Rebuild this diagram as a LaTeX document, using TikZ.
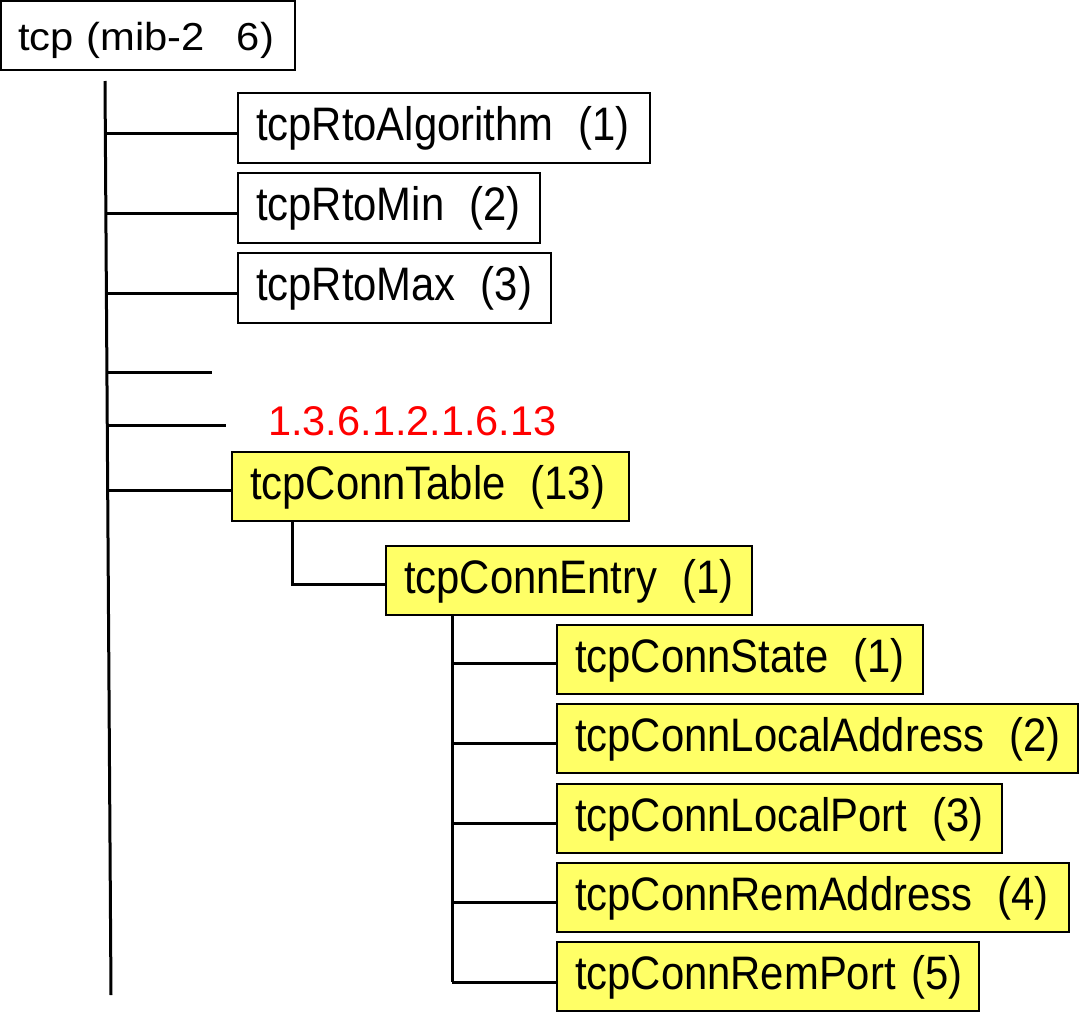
\documentclass[tikz,border=0pt]{standalone}
\usepackage{fontspec}
\setmainfont{Liberation Sans}
\newfontfamily\oidfont[FakeStretch=0.89]{Liberation Sans}
\newfontfamily\rootfont[FakeStretch=1.07]{Liberation Sans}
\definecolor{oidyellow}{HTML}{FFFF66}
\definecolor{oidred}{HTML}{FF0000}
% gap between an object name and its number
\newcommand\oidgap{\kern25pt}
\begin{document}
\begin{tikzpicture}[x=1pt,y=-1pt,
  conn/.style={line width=3pt},
  oidbox/.style={draw=black, line width=2pt, outer sep=0pt, anchor=north west,
    inner xsep=18pt, inner ysep=0pt, text height=47pt, text depth=23pt,
    text width=#1, align=left, font=\oidfont\fontsize{47}{50}\selectfont},
  yelbox/.style={oidbox=#1, fill=oidyellow, text depth=22pt},
  rootbox/.style={draw=black, line width=2pt, outer sep=0pt, anchor=north west,
    inner xsep=17pt, inner ysep=0pt, text height=49pt, text depth=20pt,
    text width=#1, align=left, font=\rootfont\fontsize{39}{44}\selectfont},
  oidlabel/.style={anchor=base west, inner sep=0pt, text=oidred,
    font=\fontsize{41.5}{44}\selectfont}
]
\useasboundingbox (0,0) rectangle (1080,1012);

% root of the subtree
\node[rootbox=260pt] (tcp) at (1,1) {\mbox{tcp (mib-2\kern32pt 6)}};

% scalar objects under tcp
\node[oidbox=376pt] (algo) at (238,93)  {tcpRtoAlgorithm\oidgap(1)};
\node[oidbox=266pt] (rmin) at (238,173) {tcpRtoMin\oidgap(2)};
\node[oidbox=277pt] (rmax) at (238,253) {tcpRtoMax\oidgap(3)};

% connection table branch
\node[oidlabel] (oid) at (268,435) {1.3.6.1.2.1.6.13};
\node[yelbox=361pt] (table) at (232,452) {tcpConnTable\oidgap(13)};
\node[yelbox=330pt] (entry) at (386,546) {tcpConnEntry\oidgap(1)};
\node[yelbox=330pt] (state) at (557,625) {tcpConnState\oidgap(1)};
\node[yelbox=485pt] (laddr) at (557,704) {tcpConnLocalAddress\oidgap(2)};
\node[yelbox=409pt] (lport) at (557,784) {tcpConnLocalPort\oidgap(3)};
\node[yelbox=476pt] (raddr) at (557,863) {tcpConnRemAddress\oidgap(4)};
\node[yelbox=386pt] (rport) at (557,942) {tcpConnRemPort~(5)};

% main trunk and its branch points
\coordinate (trunkTop) at (105,81);
\coordinate (trunkBot) at (111,995);
\coordinate (b1) at (105.3,133);
\coordinate (b2) at (105.9,213);
\coordinate (b3) at (106.4,293);
\coordinate (b4) at (106.9,372);
\coordinate (b5) at (107.3,425);
\coordinate (b6) at (107.7,490);
\coordinate (e4) at (212,372);
\coordinate (e5) at (226,425);

\draw[conn] (trunkTop) -- (trunkBot);
\draw[conn] (b1) -- (b1 -| algo.west);
\draw[conn] (b2) -- (b2 -| rmin.west);
\draw[conn] (b3) -- (b3 -| rmax.west);
\draw[conn] (b4) -- (e4);
\draw[conn] (b5) -- (e5);
\draw[conn] (b6) -- (b6 -| table.west);

% table to entry
\coordinate (tj) at (292,584);
\draw[conn] (table.south -| tj) -- (tj) -- (tj -| entry.west);

% entry to its columns
\coordinate (c1) at (452,663);
\coordinate (c2) at (452,743);
\coordinate (c3) at (452,823);
\coordinate (c4) at (452,902);
\coordinate (c5) at (452,982);
\draw[conn] (entry.south -| c1) -- (c5);
\draw[conn] (c1) -- (c1 -| state.west);
\draw[conn] (c2) -- (c2 -| laddr.west);
\draw[conn] (c3) -- (c3 -| lport.west);
\draw[conn] (c4) -- (c4 -| raddr.west);
\draw[conn] (c5) -- (c5 -| rport.west);
\end{tikzpicture}
\end{document}
